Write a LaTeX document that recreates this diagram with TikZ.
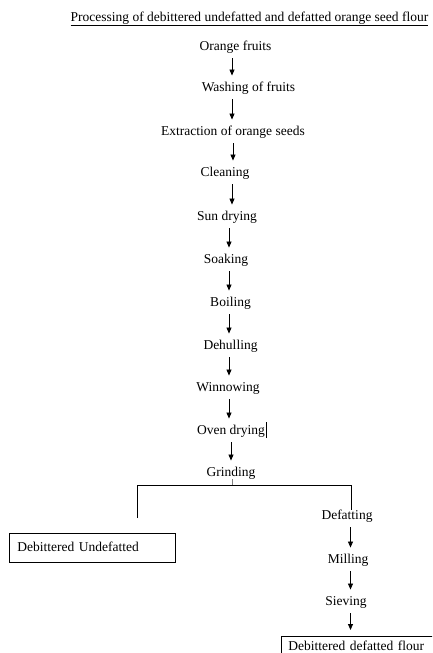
\documentclass[tikz,border=0pt]{standalone}
\usepackage{fontspec}
\setmainfont{Liberation Serif}
\usetikzlibrary{arrows.meta}
\begin{document}
\begin{tikzpicture}[x=1pt,y=-1pt,
  every node/.style={font=\fontsize{13.5}{16}\selectfont},
  stepbox/.style={inner sep=0pt,text height=9.5pt,text depth=3pt},
  arr/.style={line width=0.8pt,-{Triangle[length=6pt,width=5pt]},shorten <=5pt,shorten >=6pt},
  ln/.style={line width=0.8pt},
  outbox/.style={draw,line width=0.8pt,inner xsep=8pt,inner ysep=4.75pt,text height=9.5pt,text depth=3pt,anchor=north west,align=left}]
\useasboundingbox (0,0) rectangle (432,653);
\clip (0,0) rectangle (432,653);
\node[stepbox] (title) at (249.5,18) {\underline{Processing of debittered undefatted and defatted orange seed flour}};
\node[stepbox] (n1) at (235.5,47) {Orange fruits};
\node[stepbox] (n2) at (248.5,88) {Washing of fruits};
\node[stepbox] (n3) at (233,132) {Extraction of orange seeds};
\node[stepbox] (n4) at (225,173) {Cleaning};
\node[stepbox] (n5) at (227,217) {Sun drying};
\node[stepbox] (n6) at (226,260) {Soaking};
\node[stepbox] (n7) at (230.5,303) {Boiling};
\node[stepbox] (n8) at (230.5,346) {Dehulling};
\node[stepbox] (n9) at (228,388) {Winnowing};
\node[stepbox] (n10) at (231,431) {Oven drying};
\node[stepbox] (n11) at (231,473) {Grinding};
\node[stepbox] (d1) at (347,516) {Defatting};
\node[stepbox] (d2) at (348,560) {Milling};
\node[stepbox] (d3) at (346,602) {Sieving};
\node[outbox,text width=150pt,inner ysep=8.25pt] (b1) at (9,533) {Debittered Undefatted};
\node[outbox,inner xsep=7pt,text width=170pt] (b2) at (281,636) {Debittered defatted flour};
% arrow columns
\coordinate (xa) at (232,0);
\coordinate (xb) at (233,0);
\coordinate (xc) at (229,0);
\coordinate (xd) at (231,0);
\coordinate (xe) at (350.5,0);
\draw[arr] (n1.south -| xa) -- (n2.north -| xa);
\draw[arr] (n2.south -| xa) -- (n3.north -| xa);
\draw[arr] (n3.south -| xb) -- (n4.north -| xb);
\draw[arr] (n4.south -| xa) -- (n5.north -| xa);
\draw[arr] (n5.south -| xc) -- (n6.north -| xc);
\draw[arr] (n6.south -| xc) -- (n7.north -| xc);
\draw[arr] (n7.south -| xc) -- (n8.north -| xc);
\draw[arr] (n8.south -| xc) -- (n9.north -| xc);
\draw[arr] (n9.south -| xc) -- (n10.north -| xc);
\draw[arr] (n10.south -| xd) -- (n11.north -| xd);
\draw[arr] (d1.south -| xe) -- (d2.north -| xe);
\draw[arr] (d2.south -| xe) -- (d3.north -| xe);
\draw[arr] (d3.south -| xe) -- (b2.north -| xe);
% cursor mark
\draw[line width=0.6pt] ([xshift=1pt]n10.east |- 0,422) -- ([xshift=1pt]n10.east |- 0,438);
% branch
\coordinate (bj) at (232,485);
\coordinate (bl) at (137,485);
\coordinate (blend) at (137,518);
\coordinate (br) at (351,485);
\draw[line width=0.8pt,gray] (n11.south -| bj) -- (bj);
\draw[ln] (blend) -- (bl) -- (br) -- (d1.north -| br);
\end{tikzpicture}
\end{document}
